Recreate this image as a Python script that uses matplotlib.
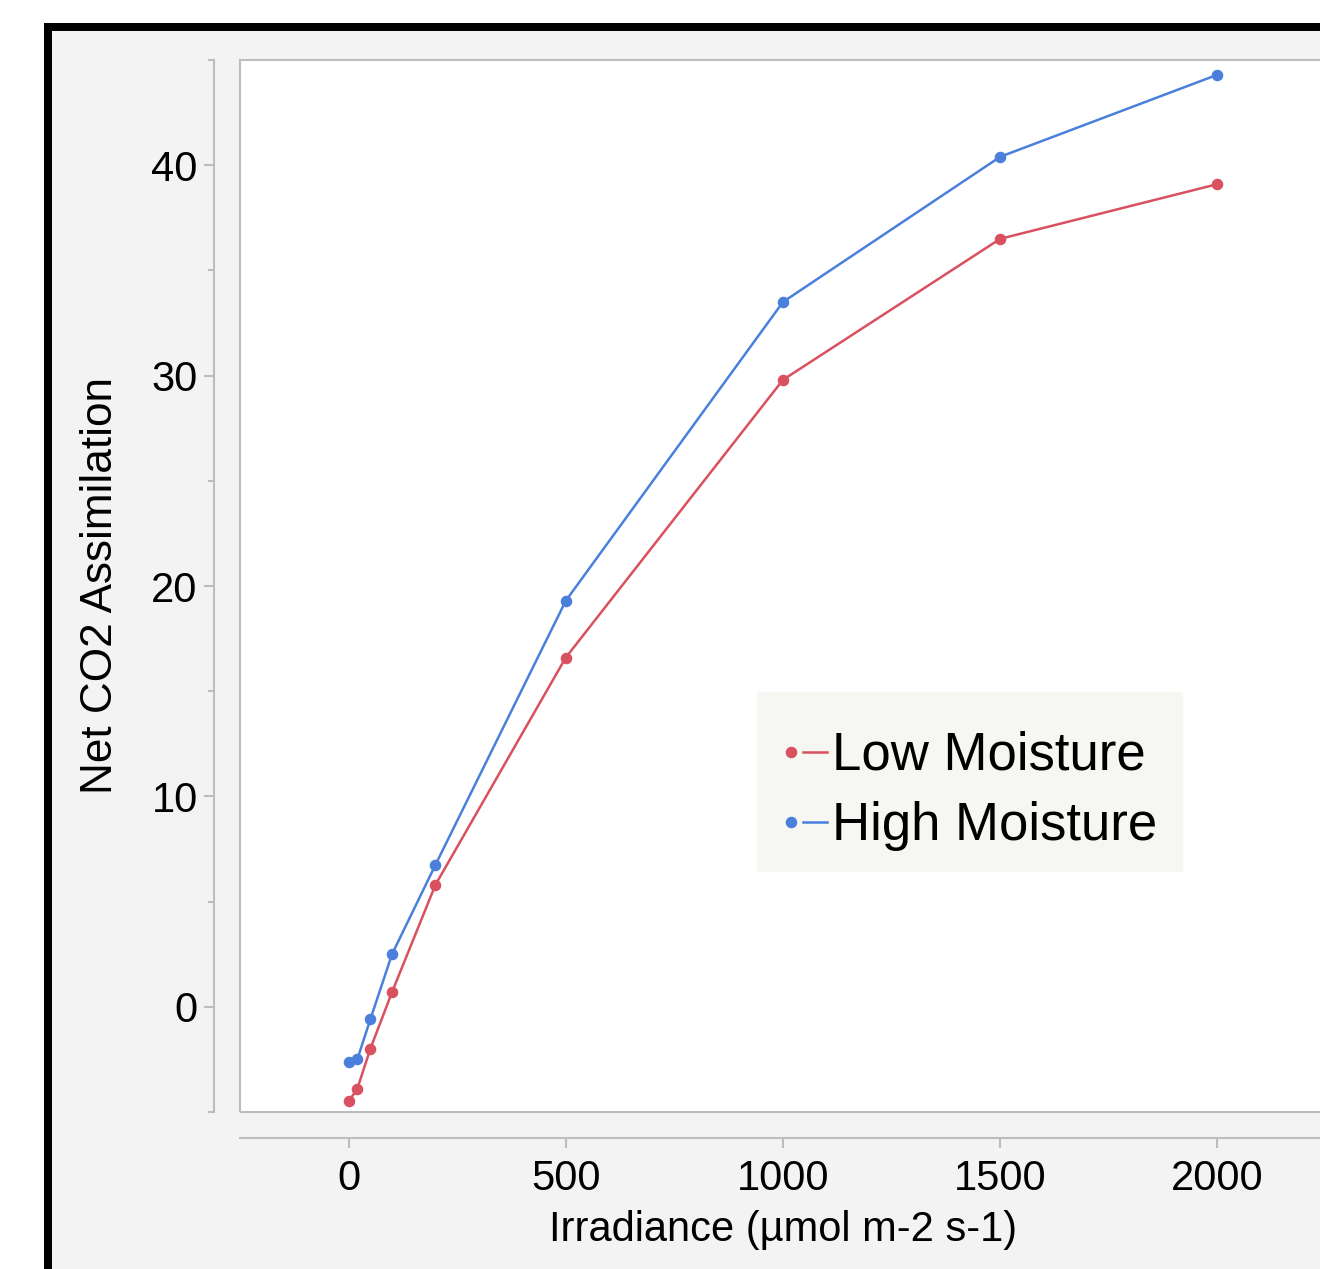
import matplotlib
matplotlib.use("Agg")
import matplotlib.pyplot as plt
from matplotlib.patches import Rectangle
from matplotlib.lines import Line2D
from matplotlib.legend_handler import HandlerTuple
from matplotlib.ticker import FixedLocator

plt.rcParams['font.family'] = ['Liberation Sans', 'DejaVu Sans']

# Light response of net CO2 assimilation
irradiance = [0, 20, 50, 100, 200, 500, 1000, 1500, 2000]
low_moisture = [-4.5, -3.9, -2.0, 0.7, 5.8, 16.6, 29.8, 36.5, 39.1]
high_moisture = [-2.6, -2.5, -0.6, 2.5, 6.75, 19.3, 33.5, 40.4, 44.3]
series_names = ["Low Moisture", "High Moisture"]
x_ticks = [0, 500, 1000, 1500, 2000]
y_ticks = [0, 10, 20, 30, 40]
y_minor = [-5, 5, 15, 25, 35, 45]

RED = "#d9505f"
BLUE = "#4a80dc"
AXIS_GRAY = "#bdbdbd"
PANEL = "#f3f3f3"

W, H = 1320, 1269
DPI = 100
fig = plt.figure(figsize=(W / DPI, H / DPI), dpi=DPI, facecolor="white")

def px_rect(x0, y0, x1, y1, **kw):
    # rectangle given in pixel coordinates measured from the top-left corner
    return Rectangle((x0 / W, 1 - y1 / H), (x1 - x0) / W, (y1 - y0) / H,
                     transform=fig.transFigure, **kw)

# window border and grey panel
fig.add_artist(px_rect(44, 23, W + 10, H + 10, facecolor="black",
                       edgecolor="none", zorder=-20))
fig.add_artist(px_rect(52, 31, W + 10, H + 10, facecolor=PANEL,
                       edgecolor="none", zorder=-19))

left_px, right_px, top_px, bottom_px = 240, 1326, 60, 1112
ax = fig.add_axes([left_px / W, 1 - bottom_px / H,
                   (right_px - left_px) / W, (bottom_px - top_px) / H])
ax.set_facecolor("white")
ax.set_xlim(-250, 2250)
ax.set_ylim(-5, 45)

def ax_x(px):
    return (px - left_px) / (right_px - left_px)

def ax_y(py):
    return 1 - (py - top_px) / (bottom_px - top_px)

ax.plot(irradiance, low_moisture, color=RED, lw=1.8, marker="o",
        markersize=7.3, zorder=3)
ax.plot(irradiance, high_moisture, color=BLUE, lw=1.8, marker="o",
        markersize=7.3, zorder=3)

# frame around the plotting area
ax.add_patch(Rectangle((0, 0), 1, 1, transform=ax.transAxes, fill=False,
                       edgecolor=AXIS_GRAY, lw=1.5, clip_on=False, zorder=5))
for s in ("top", "right"):
    ax.spines[s].set_visible(False)
for s in ("left", "bottom"):
    ax.spines[s].set_color(AXIS_GRAY)
    ax.spines[s].set_linewidth(1.5)
ax.spines["left"].set_position(("outward", 19))
ax.spines["bottom"].set_position(("outward", 19))

ax.xaxis.set_major_locator(FixedLocator(x_ticks))
ax.yaxis.set_major_locator(FixedLocator(y_ticks))
ax.yaxis.set_minor_locator(FixedLocator(y_minor))
ax.tick_params(axis="both", which="major", length=7.5, width=1.5,
               color=AXIS_GRAY, labelsize=30, labelcolor="black")
ax.tick_params(axis="x", which="major", pad=7)
ax.tick_params(axis="y", which="major", pad=4)
ax.tick_params(axis="y", which="minor", length=4.5, width=1.5,
               color=AXIS_GRAY)

ax.set_xlabel("Irradiance (\u00b5mol m-2 s-1)", fontsize=30, labelpad=8)
ax.set_ylabel("Net CO2 Assimilation", fontsize=31.8, labelpad=22)

# legend background panel
ax.add_patch(Rectangle((ax_x(757), ax_y(872)), ax_x(1183) - ax_x(757),
                       ax_y(692) - ax_y(872), transform=ax.transAxes,
                       facecolor="#f6f6f2", edgecolor="none", zorder=4))

# legend: dot followed by a short line segment
handles = []
for c in (RED, BLUE):
    dot = Line2D([], [], color=c, marker="o", markersize=7.3, linestyle="none")
    seg = Line2D([], [], color=c, lw=1.8)
    handles.append((dot, seg))
leg = ax.legend(handles, series_names,
                handler_map={tuple: HandlerTuple(ndivide=None, pad=0)},
                loc="upper left",
                bbox_to_anchor=(ax_x(779), ax_y(731)),
                borderaxespad=0, borderpad=0, fontsize=38,
                handlelength=0.91, handletextpad=0.1, labelspacing=0.38,
                frameon=False)
leg.set_zorder(6)

fig.savefig("out.png", dpi=DPI, facecolor=fig.get_facecolor())
